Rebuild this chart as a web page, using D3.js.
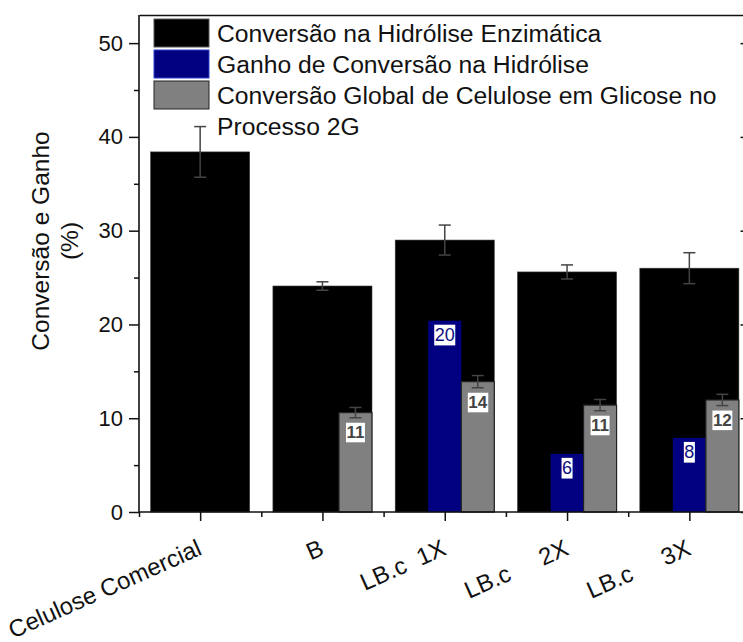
<!DOCTYPE html>
<html>
<head>
<meta charset="utf-8">
<script src="https://cdn.jsdelivr.net/npm/d3@7"></script>
<style>
  html, body { margin: 0; padding: 0; background: #fff; }
  svg { display: block; font-family: Arial, "Liberation Sans", sans-serif; }
</style>
</head>
<body>
<svg id="chart" width="743" height="642"></svg>
<script>
// Samples on the x axis (non-breaking spaces keep the gaps in the labels)
const categories = ["Celulose Comercial", "B", "LB.c\u00a0\u00a01X", "LB.c\u00a0\u00a0\u00a0\u00a0\u00a02X", "LB.c\u00a0\u00a0\u00a0\u00a0\u00a03X"];

// Conversão na Hidrólise Enzimática (%) and its standard deviation
const hydrolysis    = [38.4, 24.1, 29.0, 25.6, 26.0];
const hydrolysisErr = [2.7, 0.45, 1.6, 0.75, 1.65];

// Ganho de Conversão na Hidrólise (%) — no value for the first two samples
const gain = [null, null, 20.4, 6.2, 7.9];

// Conversão Global de Celulose em Glicose no Processo 2G (%)
const globalConv    = [null, 10.6, 13.9, 11.4, 11.95];
const globalConvErr = [null, 0.55, 0.65, 0.6, 0.6];

const yTicks = [0, 10, 20, 30, 40, 50];
const legendLabels = [
  ["Conversão na Hidrólise Enzimática"],
  ["Ganho de Conversão na Hidrólise"],
  ["Conversão Global de Celulose em Glicose no", "Processo 2G"]
];

const colors = { hydro: "#000000", gain: "#000080", global: "#808080" };

const svg = d3.select("#chart");
const plotLeft = 139, plotRight = 750.5, plotTop = 15, plotBottom = 512;

const x = d3.scaleLinear().domain([0.5, categories.length + 0.5]).range([plotLeft, plotRight]);
const y = d3.scaleLinear().domain([0, 53]).range([plotBottom, plotTop]);
const groupW = x(0.81) - x(0);
const slot = d3.scaleBand().domain(["hydro", "gain", "global"]).range([-groupW / 2, groupW / 2]);

const g = svg.append("g");

// Enzymatic hydrolysis bars span the full group width
g.selectAll("rect.hydro").data(hydrolysis).join("rect")
  .attr("class", "hydro")
  .attr("x", (d, i) => x(i + 1) - groupW / 2)
  .attr("width", groupW)
  .attr("y", d => y(d))
  .attr("height", d => y(0) - y(d))
  .attr("fill", colors.hydro)
  .attr("stroke", "#3a3a3a").attr("stroke-width", 0.6);

// Gain bars in the middle slot
const gainData = gain.map((v, i) => ({ v, i })).filter(d => d.v !== null);
g.selectAll("rect.gain").data(gainData).join("rect")
  .attr("class", "gain")
  .attr("x", d => x(d.i + 1) + slot("gain"))
  .attr("width", slot.bandwidth())
  .attr("y", d => y(d.v))
  .attr("height", d => y(0) - y(d.v))
  .attr("fill", colors.gain);

// Global conversion bars in the right slot
const globalData = globalConv.map((v, i) => ({ v, e: globalConvErr[i], i })).filter(d => d.v !== null);
g.selectAll("rect.global").data(globalData).join("rect")
  .attr("class", "global")
  .attr("x", d => x(d.i + 1) + slot("global"))
  .attr("width", slot.bandwidth())
  .attr("y", d => y(d.v))
  .attr("height", d => y(0) - y(d.v))
  .attr("fill", colors.global)
  .attr("stroke", "#222").attr("stroke-width", 1.2);

// Error bars
function errorBar(cx, v, e) {
  const eg = g.append("g").attr("stroke", "#444").attr("stroke-width", 1.5).attr("fill", "none");
  eg.append("line").attr("x1", cx).attr("x2", cx).attr("y1", y(v + e)).attr("y2", y(v - e));
  [v + e, v - e].forEach(t => eg.append("line")
    .attr("x1", cx - 6).attr("x2", cx + 6).attr("y1", y(t)).attr("y2", y(t)));
}
hydrolysis.forEach((v, i) => errorBar(x(i + 1), v, hydrolysisErr[i]));
globalData.forEach(d => errorBar(x(d.i + 1) + slot("global") + slot.bandwidth() / 2, d.v, d.e));

// Value labels on white boxes
const fmt = d3.format(".0f");
function valueLabel(cx, topY, text, color, weight, size) {
  const lg = g.append("g");
  const t = lg.append("text")
    .attr("x", cx).attr("y", topY + size * 0.92)
    .attr("text-anchor", "middle")
    .attr("font-size", size).attr("font-weight", weight)
    .attr("fill", color).text(text);
  const b = t.node().getBBox();
  lg.insert("rect", "text")
    .attr("x", b.x - 0.5).attr("y", topY).attr("width", b.width + 1).attr("height", size * 1.15)
    .attr("fill", "#fff");
}
gainData.forEach(d => valueLabel(x(d.i + 1) + slot("gain") + slot.bandwidth() / 2,
  y(d.v) + 4, fmt(d.v), "#0d0d80", "normal", 18));
globalData.forEach(d => valueLabel(x(d.i + 1) + slot("global") + slot.bandwidth() / 2,
  y(d.v - d.e) + 5, fmt(d.v), "#444", "bold", 17));

// Axes
const axisColor = "#111";
const yAxis = svg.append("g").attr("transform", `translate(${plotLeft},0)`)
  .call(d3.axisLeft(y).tickValues(yTicks).tickSize(10).tickPadding(6).tickFormat(d3.format("d")));
const yMinor = svg.append("g").attr("transform", `translate(${plotLeft},0)`)
  .call(d3.axisLeft(y).tickValues([5, 15, 25, 35, 45]).tickSize(5).tickFormat(""));
const yRight = svg.append("g").attr("transform", `translate(${plotRight},0)`)
  .call(d3.axisLeft(y).tickValues(yTicks).tickSize(10).tickFormat(""));
const xAxis = svg.append("g").attr("transform", `translate(0,${plotBottom})`)
  .call(d3.axisBottom(x).tickValues(d3.range(1, categories.length + 1)).tickSize(9).tickFormat(""));
const xMinor = svg.append("g").attr("transform", `translate(0,${plotBottom})`)
  .call(d3.axisBottom(x).tickValues(d3.range(0.5, categories.length + 1, 1)).tickSize(5).tickFormat(""));
const xTop = svg.append("g").attr("transform", `translate(0,${plotTop})`)
  .call(d3.axisTop(x).tickValues([]).tickSizeOuter(0));

[yAxis, yMinor, yRight, xAxis, xMinor, xTop].forEach(a => {
  a.select(".domain").attr("stroke", axisColor).attr("stroke-width", 1.6);
  a.selectAll(".tick line").attr("stroke", axisColor).attr("stroke-width", 1.5);
});
[yMinor, yRight, xMinor].forEach(a => a.select(".domain").remove());
yAxis.select(".domain").attr("d", `M0,${plotBottom}V${plotTop}`);
xAxis.select(".domain").attr("d", `M${plotLeft},0H${plotRight}`);
yAxis.selectAll(".tick text").attr("font-size", 22).attr("fill", "#111")
  .attr("font-family", "Arial, 'Liberation Sans', sans-serif");

// Rotated category labels
svg.append("g").selectAll("text").data(categories).join("text")
  .attr("transform", (d, i) => `translate(${x(i + 1) + 3},${554}) rotate(-24)`)
  .attr("text-anchor", "end")
  .attr("font-size", 24).attr("fill", "#111")
  .text(d => d);

// Y-axis title
const yTitle = svg.append("text")
  .attr("transform", "translate(49,241) rotate(-90)")
  .attr("text-anchor", "middle").attr("font-size", 24.5).attr("fill", "#111");
yTitle.append("tspan").attr("x", 0).attr("y", 0).text("Conversão e Ganho");
yTitle.append("tspan").attr("x", 0).attr("y", 29).text("(%)");

// Legend
const legend = svg.append("g");
const swatchStyle = [
  { fill: colors.hydro, stroke: "#555" },
  { fill: colors.gain, stroke: "#3344cc" },
  { fill: colors.global, stroke: "#222" }
];
legendLabels.forEach((lines, i) => {
  const ry = 19 + i * 31;
  legend.append("rect").attr("x", 154).attr("y", ry).attr("width", 55).attr("height", 28)
    .attr("fill", swatchStyle[i].fill).attr("stroke", swatchStyle[i].stroke).attr("stroke-width", 1);
  lines.forEach((ln, k) => {
    legend.append("text").attr("x", 217).attr("y", ry + 23 + k * 30.5)
      .attr("font-size", 24.7).attr("fill", "#111").text(ln);
  });
});
</script>
</body>
</html>
